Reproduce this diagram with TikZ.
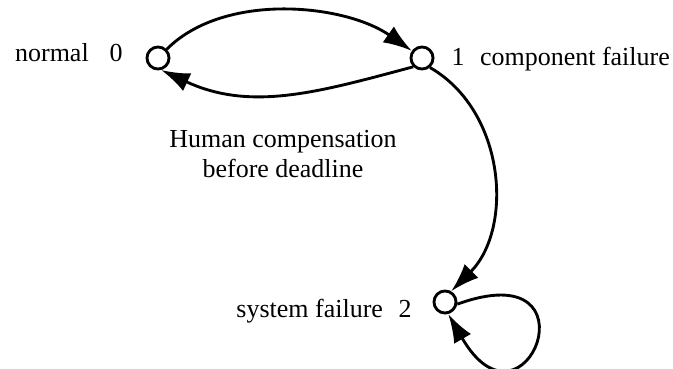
\documentclass[tikz,border=0pt]{standalone}
\usepackage{fontspec}
\setmainfont{Liberation Serif}
\usetikzlibrary{arrows.meta}
\tikzstyle{sn}=[circle,draw=black,fill=white,line width=1.1pt,
  inner sep=0pt,minimum size=8.5pt]
\tikzstyle{tr}=[line width=1.1pt,-{Latex[length=11pt,width=7.5pt]}]
\tikzstyle{lb}=[inner sep=0pt,font=\fontsize{10}{11.5}\selectfont]

\begin{document}
\begin{tikzpicture}[x=0.385pt, y=0.385pt]
        \useasboundingbox (0, 0) rectangle (673, 368);
        \node[style=sn] (0) at (158, 310) {};
		\node[style=sn] (1) at (422, 310) {};
		\node[style=sn] (2) at (445, 66) {};
        \node[style=lb, anchor=base east] (l0) at (123, 306) {normal\hspace{0.8em}0};
        \node[style=lb, anchor=base west] (l1) at (451, 303) {1\hspace{0.6em}component failure};
        \node[style=lb, anchor=base east] (l2) at (412, 51) {system failure\hspace{0.6em}2};
        % base anchor sits on the last line
        \node[style=lb, anchor=base, align=center] (hc) at (283, 191)
          {Human compensation\\before deadline};
        \draw [style=tr, out=45, in=145, looseness=0.85] (0) to (1);
		\draw [style=tr, out=195, in=-25] (1.225) to (0.-75);
		\draw [style=tr, out=-30, in=45] (1.-50) to (2.60);
		\draw [style=tr, out=20, in=-60, distance=59pt] (2.-10) to (2.-75);
    \end{tikzpicture}
\end{document}
